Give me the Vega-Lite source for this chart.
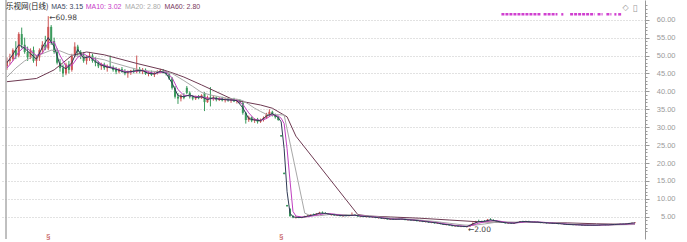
{
"$schema": "https://vega.github.io/schema/vega-lite/v6.json",
"width": 644, "height": 239,
"autosize": {"type": "none"},
"padding": {"left": 1, "top": 0, "right": 42, "bottom": 3},
"background": "white",
"config": {"view": {"stroke": null}, "font": "Liberation Sans"},
"resolve": {"axis": {"y": "independent"}},
"datasets": {
"candles": [
{"i":0,"o":47,"h":49.5,"l":46,"c":48.5},{"i":1,"o":48.5,"h":50.5,"l":47.5,"c":49},{"i":2,"o":49,"h":52,"l":48.5,"c":51.5},{"i":3,"o":51.5,"h":54,"l":49,"c":50},{"i":4,"o":50,"h":56.5,"l":49.5,"c":56},{"i":5,"o":56,"h":57.8,"l":52,"c":53},{"i":6,"o":53,"h":55,"l":50.5,"c":51},{"i":7,"o":51,"h":52.5,"l":48.5,"c":49.5},{"i":8,"o":49.5,"h":52,"l":49,"c":51.5},{"i":9,"o":51.5,"h":52.5,"l":48,"c":48.5},
{"i":10,"o":48.5,"h":50,"l":47,"c":49.5},{"i":11,"o":49.5,"h":52,"l":48.5,"c":51.5},{"i":12,"o":51.5,"h":54,"l":50.5,"c":53},{"i":13,"o":53,"h":55.5,"l":51.5,"c":52},{"i":14,"o":52,"h":60.98,"l":51.5,"c":58},{"i":15,"o":58,"h":58.5,"l":53,"c":54},{"i":16,"o":54,"h":55,"l":50.5,"c":51},{"i":17,"o":51,"h":52,"l":47.5,"c":48},{"i":18,"o":48,"h":49,"l":45.5,"c":46.5},{"i":19,"o":46.5,"h":47.5,"l":44,"c":45},
{"i":20,"o":45,"h":48,"l":44.5,"c":47.5},{"i":21,"o":47.5,"h":48.5,"l":45,"c":46},{"i":22,"o":46,"h":50.5,"l":45.5,"c":50},{"i":23,"o":50,"h":53.7,"l":49.5,"c":52.5},{"i":24,"o":52.5,"h":53,"l":50,"c":51},{"i":25,"o":51,"h":51.5,"l":49,"c":50},{"i":26,"o":50,"h":51,"l":48,"c":48.5},{"i":27,"o":48.5,"h":50,"l":47.5,"c":49.5},{"i":28,"o":49.5,"h":51,"l":48.5,"c":50},{"i":29,"o":50,"h":50.5,"l":48,"c":48.5},
{"i":30,"o":48.5,"h":49.5,"l":47,"c":48},{"i":31,"o":48,"h":48.5,"l":46.5,"c":47},{"i":32,"o":47,"h":48,"l":46,"c":47.5},{"i":33,"o":47.5,"h":48,"l":46,"c":46.5},{"i":34,"o":46.5,"h":47.5,"l":45.5,"c":47},{"i":35,"o":47,"h":50,"l":46.5,"c":46.8},{"i":36,"o":46.8,"h":47.2,"l":45.5,"c":46},{"i":37,"o":46,"h":46.8,"l":44.8,"c":45.5},{"i":38,"o":45.5,"h":46.5,"l":45,"c":46.2},{"i":39,"o":46.2,"h":46.8,"l":45.2,"c":45.6},
{"i":40,"o":45.6,"h":46.2,"l":44.5,"c":45},{"i":41,"o":45,"h":45.8,"l":43.8,"c":45.3},{"i":42,"o":45.3,"h":46,"l":44.6,"c":45.8},{"i":43,"o":45.8,"h":46.5,"l":45,"c":45.4},{"i":44,"o":45.4,"h":50,"l":45,"c":46.2},{"i":45,"o":46.2,"h":46.8,"l":45,"c":45.5},{"i":46,"o":45.5,"h":46.5,"l":44.8,"c":46},{"i":47,"o":46,"h":46.4,"l":44.6,"c":44.9},{"i":48,"o":44.9,"h":45.6,"l":44.2,"c":45.2},{"i":49,"o":45.2,"h":45.8,"l":44.3,"c":44.6},
{"i":50,"o":44.6,"h":45.4,"l":44,"c":45.1},{"i":51,"o":45.1,"h":45.9,"l":44.7,"c":45.5},{"i":52,"o":45.5,"h":46.3,"l":45,"c":45.8},{"i":53,"o":45.8,"h":46.2,"l":45,"c":45.3},{"i":54,"o":45.3,"h":45.7,"l":44.4,"c":44.8},{"i":55,"o":44.8,"h":45.2,"l":43.2,"c":43.6},{"i":56,"o":43.6,"h":44,"l":40.5,"c":41},{"i":57,"o":41,"h":41.5,"l":38,"c":38.5},{"i":58,"o":38.5,"h":39.5,"l":36.5,"c":38},{"i":59,"o":38,"h":39.2,"l":37.2,"c":38.8},
{"i":60,"o":38.8,"h":39.5,"l":37.8,"c":38.2},{"i":61,"o":41,"h":41.5,"l":39.2,"c":39.6},{"i":62,"o":39.6,"h":40,"l":38,"c":38.4},{"i":63,"o":38.4,"h":39,"l":37.5,"c":38},{"i":64,"o":38,"h":38.8,"l":37.6,"c":38.5},{"i":65,"o":38.5,"h":39,"l":37.8,"c":38.1},{"i":66,"o":38.1,"h":39.2,"l":37.9,"c":38.9},{"i":67,"o":39.5,"h":39.8,"l":34.5,"c":37},{"i":68,"o":37,"h":38.8,"l":36.8,"c":38.4},{"i":69,"o":38.4,"h":41.2,"l":35.8,"c":38},
{"i":70,"o":38,"h":38.8,"l":37.4,"c":38.3},{"i":71,"o":38.3,"h":38.6,"l":37.2,"c":37.6},{"i":72,"o":37.6,"h":38.4,"l":37.3,"c":38.1},{"i":73,"o":38.1,"h":38.5,"l":37.2,"c":37.5},{"i":74,"o":37.5,"h":38.2,"l":36.9,"c":37.9},{"i":75,"o":37.9,"h":38.3,"l":37.1,"c":37.4},{"i":76,"o":37.4,"h":38,"l":36.8,"c":37.8},{"i":77,"o":37.8,"h":38.2,"l":37,"c":37.2},{"i":78,"o":37.2,"h":37.9,"l":36.6,"c":37.6},{"i":79,"o":37.6,"h":37.8,"l":36.5,"c":36.8},
{"i":80,"o":36.8,"h":37,"l":33.5,"c":34},{"i":81,"o":34,"h":34.3,"l":31,"c":32},{"i":82,"o":32,"h":33.2,"l":31.5,"c":32.8},{"i":83,"o":32.8,"h":33,"l":31.4,"c":31.8},{"i":84,"o":31.8,"h":32.5,"l":31.2,"c":32.2},{"i":85,"o":32.2,"h":32.6,"l":31,"c":31.5},{"i":86,"o":31.5,"h":32.4,"l":31.2,"c":32},{"i":87,"o":32,"h":33,"l":31.6,"c":32.6},{"i":88,"o":32.6,"h":34,"l":32.3,"c":33.6},{"i":89,"o":33.6,"h":35,"l":33,"c":34.3},
{"i":90,"o":34.3,"h":34.6,"l":33,"c":33.4},{"i":91,"o":33.4,"h":33.8,"l":32.4,"c":32.8},{"i":92,"o":32.8,"h":33.2,"l":31.8,"c":32},{"i":93,"o":27.8,"h":27.8,"l":27.4,"c":27.4},{"i":94,"o":17.3,"h":17.3,"l":16.9,"c":16.9},{"i":95,"o":8.3,"h":8.3,"l":7.9,"c":7.9},{"i":96,"o":7.2,"h":7.4,"l":5,"c":5.2},{"i":97,"o":5.2,"h":5.5,"l":4.6,"c":4.8},{"i":98,"o":4.8,"h":5.1,"l":4.5,"c":4.9},{"i":99,"o":4.9,"h":5,"l":4.6,"c":4.7},
{"i":100,"o":4.7,"h":5,"l":4.6,"c":4.9},{"i":101,"o":4.9,"h":5.3,"l":4.8,"c":5.2},{"i":102,"o":5.2,"h":5.5,"l":5,"c":5.3},{"i":103,"o":5.3,"h":5.7,"l":5.2,"c":5.6},{"i":104,"o":5.6,"h":5.9,"l":5.4,"c":5.5},{"i":105,"o":5.5,"h":6,"l":5.4,"c":5.9},{"i":106,"o":5.9,"h":6.4,"l":5.8,"c":6.2},{"i":107,"o":6.2,"h":6.5,"l":5.9,"c":6},{"i":108,"o":6,"h":6.3,"l":5.7,"c":5.8},{"i":109,"o":5.8,"h":6,"l":5.5,"c":5.6},
{"i":110,"o":5.6,"h":5.8,"l":5.3,"c":5.7},{"i":111,"o":5.7,"h":5.8,"l":5.3,"c":5.4},{"i":112,"o":5.4,"h":5.6,"l":5.2,"c":5.5},{"i":113,"o":5.5,"h":5.6,"l":5.1,"c":5.2},{"i":114,"o":5.2,"h":5.5,"l":5,"c":5.4},{"i":115,"o":5.4,"h":5.6,"l":5.1,"c":5.3},{"i":116,"o":5.3,"h":5.5,"l":5.1,"c":5.4},{"i":117,"o":5.4,"h":6.2,"l":5.3,"c":5.6},{"i":118,"o":5.6,"h":5.7,"l":5.2,"c":5.3},{"i":119,"o":5.3,"h":5.4,"l":5,"c":5.1},
{"i":120,"o":5.1,"h":5.3,"l":4.9,"c":5.2},{"i":121,"o":5.2,"h":5.3,"l":4.9,"c":5},{"i":122,"o":5,"h":5.2,"l":4.8,"c":5.1},{"i":123,"o":5.1,"h":5.2,"l":4.8,"c":4.9},{"i":124,"o":4.9,"h":5.1,"l":4.7,"c":5},{"i":125,"o":5,"h":5.1,"l":4.6,"c":4.7},{"i":126,"o":4.7,"h":4.9,"l":4.5,"c":4.8},{"i":127,"o":4.8,"h":4.9,"l":4.4,"c":4.5},{"i":128,"o":4.5,"h":4.7,"l":4.3,"c":4.6},{"i":129,"o":4.6,"h":4.7,"l":4.2,"c":4.3},
{"i":130,"o":4.3,"h":4.5,"l":4.1,"c":4.4},{"i":131,"o":4.4,"h":4.5,"l":4.1,"c":4.2},{"i":132,"o":4.2,"h":4.5,"l":4.1,"c":4.4},{"i":133,"o":4.4,"h":4.6,"l":4.2,"c":4.3},{"i":134,"o":4.3,"h":4.5,"l":4.1,"c":4.4},{"i":135,"o":4.4,"h":4.5,"l":4,"c":4.1},{"i":136,"o":4.1,"h":4.3,"l":3.9,"c":4.2},{"i":137,"o":4.2,"h":4.3,"l":3.9,"c":4},{"i":138,"o":4,"h":4.2,"l":3.8,"c":4.1},{"i":139,"o":4.1,"h":4.2,"l":3.7,"c":3.8},
{"i":140,"o":3.8,"h":4,"l":3.6,"c":3.9},{"i":141,"o":3.9,"h":4,"l":3.5,"c":3.6},{"i":142,"o":3.6,"h":3.8,"l":3.4,"c":3.7},{"i":143,"o":3.7,"h":3.8,"l":3.3,"c":3.4},{"i":144,"o":3.4,"h":3.6,"l":3.2,"c":3.5},{"i":145,"o":3.5,"h":3.6,"l":3.1,"c":3.2},{"i":146,"o":3.2,"h":3.4,"l":3,"c":3.3},{"i":147,"o":3.3,"h":3.4,"l":2.9,"c":3},{"i":148,"o":3,"h":3.1,"l":2.7,"c":2.8},{"i":149,"o":2.8,"h":3,"l":2.6,"c":2.9},
{"i":150,"o":2.9,"h":3,"l":2.5,"c":2.6},{"i":151,"o":2.6,"h":2.7,"l":2.3,"c":2.4},{"i":152,"o":2.4,"h":2.6,"l":2.2,"c":2.5},{"i":153,"o":2.5,"h":2.6,"l":2.2,"c":2.3},{"i":154,"o":2.3,"h":2.5,"l":2.1,"c":2.4},{"i":155,"o":2.4,"h":2.5,"l":2.1,"c":2.2},{"i":156,"o":2.2,"h":2.4,"l":2,"c":2.3},{"i":157,"o":2.3,"h":2.8,"l":2.2,"c":2.7},{"i":158,"o":2.7,"h":3.4,"l":2.6,"c":3.3},{"i":159,"o":3.3,"h":3.9,"l":3.2,"c":3.7},
{"i":160,"o":3.7,"h":4.2,"l":3.5,"c":3.6},{"i":161,"o":3.6,"h":3.9,"l":3.4,"c":3.8},{"i":162,"o":3.8,"h":4.1,"l":3.6,"c":3.7},{"i":163,"o":3.7,"h":4.4,"l":3.6,"c":4.2},{"i":164,"o":4.2,"h":4.6,"l":4,"c":4.1},{"i":165,"o":4.1,"h":4.3,"l":3.8,"c":3.9},{"i":166,"o":3.9,"h":4.1,"l":3.6,"c":3.7},{"i":167,"o":3.7,"h":3.8,"l":3.4,"c":3.5},{"i":168,"o":3.5,"h":3.7,"l":3.3,"c":3.4},{"i":169,"o":3.4,"h":3.5,"l":3.1,"c":3.2},
{"i":170,"o":3.2,"h":3.4,"l":3,"c":3.3},{"i":171,"o":3.3,"h":3.4,"l":3,"c":3.1},{"i":172,"o":3.1,"h":3.4,"l":3,"c":3.3},{"i":173,"o":3.3,"h":3.6,"l":3.2,"c":3.5},{"i":174,"o":3.5,"h":3.8,"l":3.4,"c":3.7},{"i":175,"o":3.7,"h":3.9,"l":3.5,"c":3.6},{"i":176,"o":3.6,"h":3.9,"l":3.5,"c":3.8},{"i":177,"o":3.8,"h":3.9,"l":3.5,"c":3.6},{"i":178,"o":3.6,"h":3.7,"l":3.4,"c":3.5},{"i":179,"o":3.5,"h":3.7,"l":3.3,"c":3.6},
{"i":180,"o":3.6,"h":3.7,"l":3.3,"c":3.4},{"i":181,"o":3.4,"h":3.5,"l":3.2,"c":3.3},{"i":182,"o":3.3,"h":3.5,"l":3.2,"c":3.4},{"i":183,"o":3.4,"h":3.5,"l":3.1,"c":3.2},{"i":184,"o":3.2,"h":3.4,"l":3.1,"c":3.3},{"i":185,"o":3.3,"h":3.4,"l":3,"c":3.1},{"i":186,"o":3.1,"h":3.3,"l":3,"c":3.2},{"i":187,"o":3.2,"h":3.3,"l":2.9,"c":3},{"i":188,"o":3,"h":3.2,"l":2.9,"c":3.1},{"i":189,"o":3.1,"h":3.2,"l":2.8,"c":2.9},
{"i":190,"o":2.9,"h":3,"l":2.7,"c":2.8},{"i":191,"o":2.8,"h":3,"l":2.7,"c":2.9},{"i":192,"o":2.9,"h":3,"l":2.6,"c":2.7},{"i":193,"o":2.7,"h":2.9,"l":2.6,"c":2.8},{"i":194,"o":2.8,"h":2.9,"l":2.6,"c":2.7},{"i":195,"o":2.7,"h":2.8,"l":2.5,"c":2.6},{"i":196,"o":2.6,"h":2.8,"l":2.5,"c":2.7},{"i":197,"o":2.7,"h":2.8,"l":2.5,"c":2.6},{"i":198,"o":2.6,"h":2.8,"l":2.5,"c":2.7},{"i":199,"o":2.7,"h":2.8,"l":2.6,"c":2.75},
{"i":200,"o":2.7,"h":2.8,"l":2.5,"c":2.6},{"i":201,"o":2.6,"h":2.8,"l":2.5,"c":2.7},{"i":202,"o":2.7,"h":2.9,"l":2.6,"c":2.8},{"i":203,"o":2.8,"h":2.9,"l":2.6,"c":2.7},{"i":204,"o":2.7,"h":2.9,"l":2.6,"c":2.8},{"i":205,"o":2.8,"h":3,"l":2.7,"c":2.9},{"i":206,"o":2.9,"h":3,"l":2.7,"c":2.8},{"i":207,"o":2.8,"h":3,"l":2.7,"c":2.9},{"i":208,"o":2.9,"h":3.1,"l":2.8,"c":3},{"i":209,"o":3,"h":3.1,"l":2.8,"c":2.9},
{"i":210,"o":2.9,"h":3.2,"l":2.8,"c":3.1},{"i":211,"o":3.1,"h":3.3,"l":3,"c":3.2},{"i":212,"o":3.2,"h":3.4,"l":3.1,"c":3.3},{"i":213,"o":3.3,"h":3.5,"l":3.2,"c":3.4}
],
"m5": [
{"i":0,"v":48},{"i":2,"v":50.3},{"i":4,"v":53},{"i":6,"v":52},{"i":8,"v":50.5},{"i":10,"v":49},{"i":12,"v":52.3},{"i":14,"v":55},{"i":16,"v":52.5},{"i":18,"v":47.3},{"i":20,"v":46.3},{"i":22,"v":48},{"i":24,"v":51.7},{"i":26,"v":49.3},{"i":28,"v":49.7},{"i":30,"v":48.3},{"i":32,"v":47.3},{"i":34,"v":46.8},{"i":36,"v":46.4},{"i":38,"v":45.9},{"i":40,"v":45.3},{"i":42,"v":45.5},{"i":44,"v":45.8},{"i":46,"v":45.8},{"i":48,"v":45},{"i":50,"v":44.9},{"i":52,"v":45.6},{"i":54,"v":45},{"i":56,"v":42.3},{"i":58,"v":38.8},{"i":60,"v":38.5},{"i":62,"v":39},{"i":64,"v":38.3},{"i":66,"v":38.5},{"i":68,"v":37.7},{"i":70,"v":38.2},{"i":72,"v":37.8},{"i":74,"v":37.7},{"i":76,"v":37.6},{"i":78,"v":37.4},{"i":80,"v":35.4},{"i":82,"v":32.4},{"i":84,"v":32},{"i":86,"v":31.8},{"i":88,"v":33.1},{"i":90,"v":33.8},{"i":92,"v":32.7},{"i":93,"v":31.5},{"i":94,"v":24},{"i":95,"v":12},{"i":96,"v":6},{"i":97,"v":5},{"i":98,"v":4.85},{"i":100,"v":4.8},{"i":102,"v":5.2},{"i":104,"v":5.55},{"i":106,"v":6},{"i":108,"v":5.95},{"i":110,"v":5.65},{"i":112,"v":5.45},{"i":114,"v":5.3},{"i":116,"v":5.35},{"i":118,"v":5.45},{"i":120,"v":5.15},{"i":122,"v":5.05},{"i":124,"v":4.95},{"i":126,"v":4.75},{"i":128,"v":4.55},{"i":130,"v":4.35},{"i":132,"v":4.3},{"i":134,"v":4.35},{"i":136,"v":4.15},{"i":138,"v":4.05},{"i":140,"v":3.85},{"i":142,"v":3.65},{"i":144,"v":3.45},{"i":146,"v":3.25},{"i":148,"v":2.9},{"i":150,"v":2.75},{"i":152,"v":2.45},{"i":154,"v":2.35},{"i":156,"v":2.25},{"i":158,"v":3},{"i":160,"v":3.65},{"i":162,"v":3.75},{"i":164,"v":4.15},{"i":166,"v":3.8},{"i":168,"v":3.45},{"i":170,"v":3.25},{"i":172,"v":3.2},{"i":174,"v":3.6},{"i":176,"v":3.7},{"i":178,"v":3.55},{"i":180,"v":3.5},{"i":182,"v":3.35},{"i":184,"v":3.25},{"i":186,"v":3.15},{"i":188,"v":3.05},{"i":190,"v":2.85},{"i":192,"v":2.8},{"i":194,"v":2.75},{"i":196,"v":2.65},{"i":198,"v":2.65},{"i":200,"v":2.65},{"i":202,"v":2.75},{"i":204,"v":2.75},{"i":206,"v":2.85},{"i":208,"v":2.95},{"i":210,"v":3},{"i":212,"v":3.25},{"i":213,"v":3.3}
],
"m10": [
{"i":0,"v":46.5},{"i":2,"v":48.5},{"i":4,"v":51},{"i":6,"v":52.5},{"i":8,"v":51.3},{"i":10,"v":50},{"i":12,"v":50.6},{"i":14,"v":53.6},{"i":16,"v":53.8},{"i":18,"v":50},{"i":20,"v":47},{"i":22,"v":47.2},{"i":24,"v":49.5},{"i":26,"v":50.5},{"i":28,"v":49.5},{"i":30,"v":49},{"i":32,"v":47.6},{"i":34,"v":47},{"i":36,"v":46.6},{"i":38,"v":46},{"i":40,"v":45.6},{"i":42,"v":45.4},{"i":44,"v":45.7},{"i":46,"v":45.8},{"i":48,"v":45.4},{"i":50,"v":45},{"i":52,"v":45.3},{"i":54,"v":45.4},{"i":56,"v":43.8},{"i":58,"v":40.5},{"i":60,"v":38.9},{"i":62,"v":38.8},{"i":64,"v":38.6},{"i":66,"v":38.5},{"i":68,"v":38.1},{"i":70,"v":37.9},{"i":72,"v":38},{"i":74,"v":37.7},{"i":76,"v":37.6},{"i":78,"v":37.5},{"i":80,"v":36.4},{"i":82,"v":34},{"i":84,"v":32.2},{"i":86,"v":31.9},{"i":88,"v":32.4},{"i":90,"v":33.5},{"i":92,"v":33.1},{"i":93,"v":32.5},{"i":94,"v":31},{"i":95,"v":24},{"i":96,"v":15},{"i":97,"v":6.5},{"i":98,"v":5.2},{"i":100,"v":4.95},{"i":102,"v":5},{"i":104,"v":5.3},{"i":106,"v":5.6},{"i":108,"v":5.9},{"i":110,"v":5.85},{"i":112,"v":5.6},{"i":114,"v":5.4},{"i":116,"v":5.35},{"i":118,"v":5.4},{"i":120,"v":5.3},{"i":122,"v":5.1},{"i":124,"v":5},{"i":126,"v":4.85},{"i":128,"v":4.65},{"i":130,"v":4.45},{"i":132,"v":4.35},{"i":134,"v":4.35},{"i":136,"v":4.25},{"i":138,"v":4.1},{"i":140,"v":3.95},{"i":142,"v":3.75},{"i":144,"v":3.55},{"i":146,"v":3.35},{"i":148,"v":3.1},{"i":150,"v":2.85},{"i":152,"v":2.6},{"i":154,"v":2.45},{"i":156,"v":2.3},{"i":158,"v":2.65},{"i":160,"v":3.2},{"i":162,"v":3.6},{"i":164,"v":3.9},{"i":166,"v":3.95},{"i":168,"v":3.65},{"i":170,"v":3.35},{"i":172,"v":3.25},{"i":174,"v":3.4},{"i":176,"v":3.6},{"i":178,"v":3.6},{"i":180,"v":3.55},{"i":182,"v":3.45},{"i":184,"v":3.3},{"i":186,"v":3.2},{"i":188,"v":3.1},{"i":190,"v":2.95},{"i":192,"v":2.85},{"i":194,"v":2.75},{"i":196,"v":2.7},{"i":198,"v":2.65},{"i":200,"v":2.65},{"i":202,"v":2.7},{"i":204,"v":2.75},{"i":206,"v":2.8},{"i":208,"v":2.9},{"i":210,"v":2.95},{"i":212,"v":3.05},{"i":213,"v":3.05}
],
"m20": [
{"i":0,"v":44},{"i":3,"v":46.5},{"i":6,"v":48.5},{"i":9,"v":49.8},{"i":12,"v":50.5},{"i":15,"v":51.5},{"i":18,"v":51.3},{"i":21,"v":50.3},{"i":24,"v":49.8},{"i":27,"v":49.6},{"i":30,"v":49.3},{"i":33,"v":48.8},{"i":36,"v":48},{"i":39,"v":47.3},{"i":42,"v":46.6},{"i":45,"v":46},{"i":48,"v":45.7},{"i":51,"v":45.5},{"i":54,"v":45.4},{"i":56,"v":45},{"i":58,"v":44},{"i":60,"v":43},{"i":63,"v":41.4},{"i":66,"v":39.7},{"i":69,"v":39},{"i":72,"v":38.5},{"i":75,"v":38},{"i":78,"v":37.8},{"i":80,"v":37.4},{"i":82,"v":36.4},{"i":84,"v":35.3},{"i":86,"v":34.4},{"i":88,"v":33.6},{"i":90,"v":33.4},{"i":92,"v":33.5},{"i":94,"v":33.4},{"i":101,"v":6},{"i":103,"v":5.3},{"i":106,"v":5.3},{"i":110,"v":5.7},{"i":115,"v":5.6},{"i":120,"v":5.35},{"i":125,"v":5.05},{"i":130,"v":4.7},{"i":135,"v":4.4},{"i":140,"v":4.1},{"i":145,"v":3.7},{"i":150,"v":3.2},{"i":155,"v":2.7},{"i":158,"v":2.6},{"i":162,"v":3},{"i":166,"v":3.5},{"i":170,"v":3.5},{"i":175,"v":3.4},{"i":180,"v":3.5},{"i":185,"v":3.35},{"i":190,"v":3.1},{"i":195,"v":2.85},{"i":200,"v":2.72},{"i":205,"v":2.72},{"i":210,"v":2.8},{"i":213,"v":2.85}
],
"m60": [
{"i":0,"v":42.7},{"i":10,"v":43.6},{"i":16,"v":46},{"i":22,"v":50},{"i":27,"v":51},{"i":33,"v":50.2},{"i":44,"v":47.8},{"i":53,"v":46},{"i":56,"v":45.2},{"i":60,"v":44},{"i":66,"v":41.8},{"i":77,"v":37.6},{"i":86,"v":36.2},{"i":90,"v":35.3},{"i":95,"v":32.9},{"i":98,"v":27.5},{"i":119,"v":5.6},{"i":123,"v":5.2},{"i":130,"v":4.95},{"i":140,"v":4.6},{"i":150,"v":4.1},{"i":160,"v":3.6},{"i":170,"v":3.45},{"i":180,"v":3.4},{"i":190,"v":3.3},{"i":200,"v":3.05},{"i":213,"v":2.85}
],
"notes": [{"i":14,"v":60.98,"t":"←60.98"},{"i":156,"v":2.0,"t":"←2.00"}],
"events": [{"i":14},{"i":93}],
"strip": [{"a":167.7,"b":181},{"a":182,"b":186.7},{"a":188,"b":188.7},{"a":191,"b":199.3},{"a":200.3,"b":202},{"a":203.3,"b":205},{"a":206,"b":206.7},{"a":207.3,"b":208.3}]
},
"layer": [
{"data": {"name": "candles"},
 "mark": {"type": "rule", "strokeWidth": 1},
 "encoding": {
  "x": {"field": "i", "type": "quantitative", "scale": {"domain": [-0.33, 214.7], "nice": false, "zero": false},
        "axis": {"orient": "bottom", "domain": true, "domainColor": "#aaaaaa", "ticks": false, "labels": false, "grid": false, "title": null}},
  "y": {"field": "l", "type": "quantitative", "scale": {"domain": [-1.2, 65.5], "nice": false, "zero": false},
        "axis": {"orient": "right", "title": null,
          "values": [5,10,15,20,25,30,35,40,45,50,55,60],
          "format": ".2f",
          "labelAlign": "right", "labelPadding": 26, "labelFontSize": 7.5, "labelColor": "#9a9a9a", "labelFont": "Liberation Sans",
          "labelOverlap": false, "labelBound": false, "labelFlush": false,
          "tickSize": 4, "tickColor": "#999999", "domainColor": "#999999",
          "grid": true, "gridColor": "#c4c4c4", "gridDash": [1, 2]}},
  "y2": {"field": "h"},
  "color": {"condition": {"test": "datum.c >= datum.o", "value": "#cc5555"}, "value": "#3a9a5c"}
 }},
{"data": {"name": "candles"},
 "mark": {"type": "bar", "width": 2},
 "encoding": {
  "x": {"field": "i", "type": "quantitative", "axis": null},
  "y": {"field": "o", "type": "quantitative",
        "axis": {"orient": "right", "title": null, "values": [1,2,3,4,6,7,8,9,11,12,13,14,16,17,18,19,21,22,23,24,26,27,28,29,31,32,33,34,36,37,38,39,41,42,43,44,46,47,48,49,51,52,53,54,56,57,58,59,61,62,63,64],
                 "labels": false, "domain": false, "grid": false, "tickSize": 2, "tickColor": "#999999"}},
  "y2": {"field": "c"},
  "color": {"condition": {"test": "datum.c >= datum.o", "value": "#cc5555"}, "value": "#3a9a5c"}
 }},
{"data": {"name": "m60"}, "mark": {"type": "line", "strokeWidth": 1, "color": "#6e3a52"},
 "encoding": {"x": {"field": "i", "type": "quantitative", "axis": null}, "y": {"field": "v", "type": "quantitative", "axis": null}}},
{"data": {"name": "m20"}, "mark": {"type": "line", "strokeWidth": 1, "color": "#a8a8a8"},
 "encoding": {"x": {"field": "i", "type": "quantitative", "axis": null}, "y": {"field": "v", "type": "quantitative", "axis": null}}},
{"data": {"name": "m10"}, "mark": {"type": "line", "strokeWidth": 1, "color": "#c040c0"},
 "encoding": {"x": {"field": "i", "type": "quantitative", "axis": null}, "y": {"field": "v", "type": "quantitative", "axis": null}}},
{"data": {"name": "m5"}, "mark": {"type": "line", "strokeWidth": 1, "color": "#2f3a55"},
 "encoding": {"x": {"field": "i", "type": "quantitative", "axis": null}, "y": {"field": "v", "type": "quantitative", "axis": null}}},
{"data": {"name": "strip"}, "mark": {"type": "rule", "strokeWidth": 2.5, "color": "#d040d0", "strokeDash": [3, 1]},
 "encoding": {"x": {"field": "a", "type": "quantitative", "axis": null}, "x2": {"field": "b"}, "y": {"datum": 61.5, "axis": null}}},
{"data": {"name": "notes"}, "mark": {"type": "text", "align": "left", "baseline": "middle", "dx": 1, "dy": 2, "fontSize": 7.5, "color": "#444444", "font": "DejaVu Sans"},
 "encoding": {"x": {"field": "i", "type": "quantitative", "axis": null}, "y": {"field": "v", "type": "quantitative", "axis": null}, "text": {"field": "t"}}},
{"data": {"name": "events"}, "mark": {"type": "text", "text": "§", "fontSize": 8, "color": "#c04848", "baseline": "middle"},
 "encoding": {"x": {"field": "i", "type": "quantitative", "axis": null}, "y": {"datum": -0.6, "axis": null}}},
{"data": {"name": "events"}, "mark": {"type": "rule", "strokeWidth": 1, "color": "#aaaaaa"},
 "encoding": {"x": {"datum": -0.33, "axis": null}}},
{"data": {"values": [{}]}, "mark": {"type": "text", "text": "乐视网(日线)", "align": "left", "baseline": "middle", "fontSize": 7.5, "color": "#222222", "font": "Noto Sans CJK SC"},
 "encoding": {"x": {"datum": -0.33, "axis": null}, "y": {"datum": 63.6, "axis": null}}},
{"data": {"values": [{}]}, "mark": {"type": "text", "text": "MA5: 3.15", "align": "left", "baseline": "middle", "fontSize": 7, "color": "#3a4660"},
 "encoding": {"x": {"datum": 15.0, "axis": null}, "y": {"datum": 63.6, "axis": null}}},
{"data": {"values": [{}]}, "mark": {"type": "text", "text": "MA10: 3.02", "align": "left", "baseline": "middle", "fontSize": 7, "color": "#c83cc8"},
 "encoding": {"x": {"datum": 26.7, "axis": null}, "y": {"datum": 63.6, "axis": null}}},
{"data": {"values": [{}]}, "mark": {"type": "text", "text": "MA20: 2.80", "align": "left", "baseline": "middle", "fontSize": 7, "color": "#aaaaaa"},
 "encoding": {"x": {"datum": 40.0, "axis": null}, "y": {"datum": 63.6, "axis": null}}},
{"data": {"values": [{}]}, "mark": {"type": "text", "text": "MA60: 2.80", "align": "left", "baseline": "middle", "fontSize": 7, "color": "#7a3a5e"},
 "encoding": {"x": {"datum": 53.4, "axis": null}, "y": {"datum": 63.6, "axis": null}}},
{"data": {"values": [{}]}, "mark": {"type": "text", "text": "◇", "align": "center", "baseline": "middle", "fontSize": 8, "color": "#999999", "font": "DejaVu Sans"},
 "encoding": {"x": {"datum": 209.8, "axis": null}, "y": {"datum": 63.3, "axis": null}}},
{"data": {"values": [{}]}, "mark": {"type": "text", "text": "▯", "align": "center", "baseline": "middle", "fontSize": 9, "color": "#999999", "font": "DejaVu Sans"},
 "encoding": {"x": {"datum": 213.0, "axis": null}, "y": {"datum": 63.3, "axis": null}}}
]
}
